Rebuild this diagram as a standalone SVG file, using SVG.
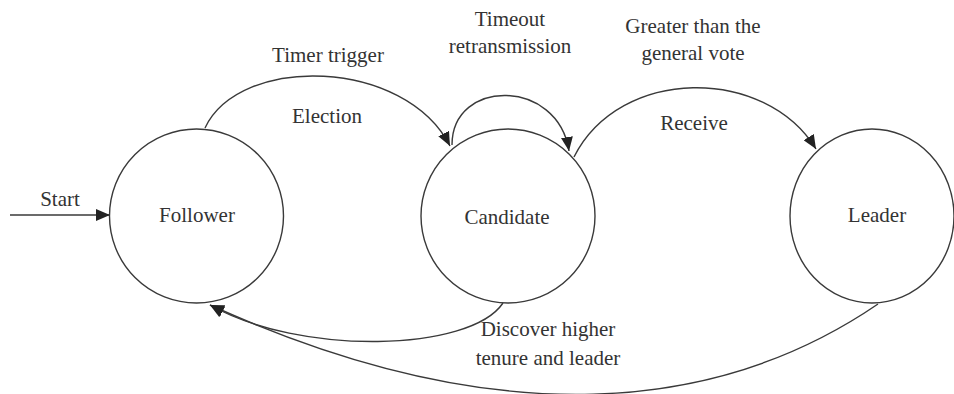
<svg xmlns="http://www.w3.org/2000/svg" width="954" height="394" viewBox="0 0 954 394">
<style>
.node{fill:#fff;stroke:#3a3a3a;stroke-width:1.4}
.edge{fill:none;stroke:#3a3a3a;stroke-width:1.4}
text{font-family:"Liberation Serif","Times New Roman",serif;font-size:21px;fill:#333;text-anchor:middle}
</style>
<defs>
<marker id="arr" markerUnits="userSpaceOnUse" markerWidth="16" markerHeight="12" refX="14" refY="6" orient="auto">
<path d="M0,0 L14,6 L0,12 Z" fill="#222"/>
</marker>
</defs>
<g id="follower"><circle class="node" cx="196.5" cy="216" r="87"/><text x="197" y="222">Follower</text></g>
<g id="candidate"><circle class="node" cx="508" cy="216" r="87"/><text x="507" y="224">Candidate</text></g>
<g id="leader"><ellipse class="node" cx="872" cy="216" rx="82" ry="87"/><text x="877" y="222">Leader</text></g>
<g id="connectors">
<path class="edge" d="M10,215 L110,215" marker-end="url(#arr)"/>
<path class="edge" d="M205,128 C240,54 405,58 450,146" marker-end="url(#arr)"/>
<path class="edge" d="M452,145 C452,78 558,78 569,151" marker-end="url(#arr)"/>
<path class="edge" d="M574,157 C620,66 765,66 816,149" marker-end="url(#arr)"/>
<path class="edge" d="M503,303 C470,352 300,356 210,305" marker-end="url(#arr)"/>
<path class="edge" d="M878,304 C720,412 500,436 210,305" marker-end="url(#arr)"/>
</g>
<g id="labels">
<text x="60" y="206">Start</text>
<text x="328" y="62">Timer trigger</text>
<text x="327" y="123">Election</text>
<text x="510" y="26">Timeout</text>
<text x="510" y="53">retransmission</text>
<text x="693" y="33">Greater than the</text>
<text x="693" y="60">general vote</text>
<text x="694" y="130">Receive</text>
<text x="548" y="336">Discover higher</text>
<text x="548" y="365">tenure and leader</text>
</g>
</svg>
